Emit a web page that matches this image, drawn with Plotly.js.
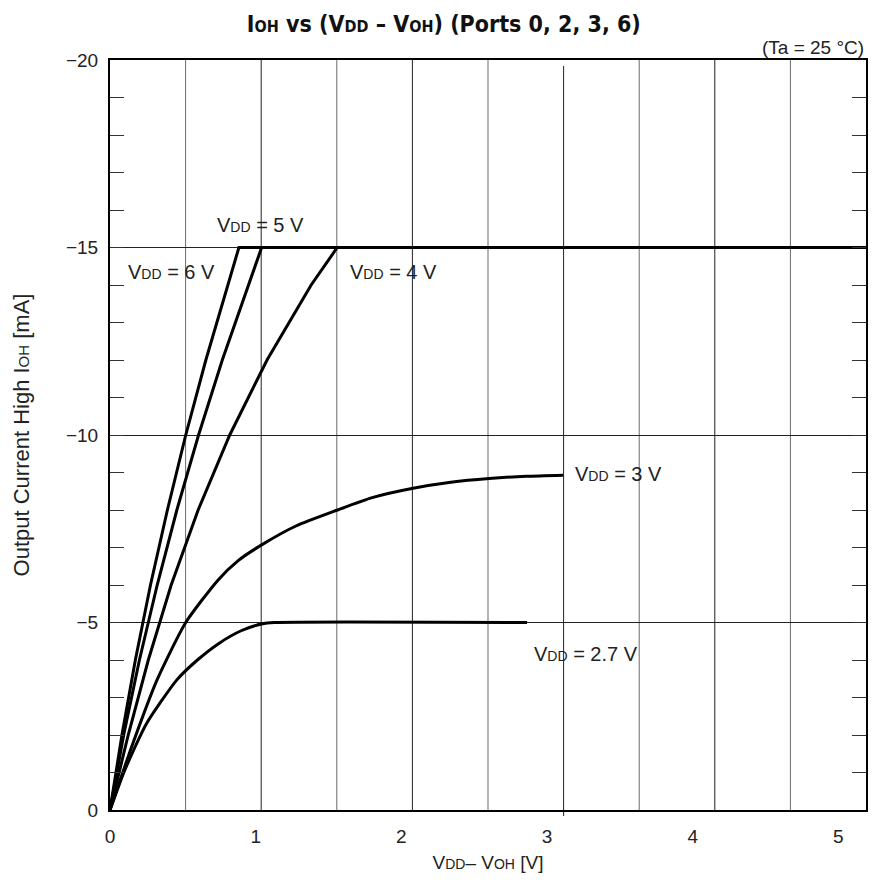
<!DOCTYPE html>
<html>
<head>
<meta charset="utf-8">
<script src="https://cdn.plot.ly/plotly-3.0.1.min.js"></script>
<style>
  html, body { margin: 0; padding: 0; background: #ffffff; }
  #chart { width: 872px; height: 882px; }
</style>
</head>
<body>
<div id="chart"></div>
<script>
// ---- Data ----
// x: VDD - VOH [V], y: IOH [mA]
const x_vdd6 = [0, 0.082, 0.174, 0.278, 0.394, 0.52, 0.658, 0.806, 0.885, 5.19];
const i_vdd6 = [0, -2, -4, -6, -8, -10, -12, -14, -15, -15];

const x_vdd5 = [0, 0.094, 0.202, 0.324, 0.459, 0.608, 0.771, 0.948, 1.041, 5.19];
const i_vdd5 = [0, -2, -4, -6, -8, -10, -12, -14, -15, -15];

const x_vdd4 = [0, 0.125, 0.263, 0.42, 0.605, 0.822, 1.078, 1.381, 1.56, 5.19];
const i_vdd4 = [0, -2, -4, -6, -8, -10, -12, -14, -15, -15];

const x_vdd3 = [0, 0.15, 0.323, 0.52, 0.741, 0.88, 1.041, 1.28, 1.562, 1.8, 2.081, 2.34, 2.603, 2.86, 3.111];
const i_vdd3 = [0, -1.7, -3.47, -5.0, -6.13, -6.65, -7.07, -7.58, -8.0, -8.33, -8.58, -8.74, -8.84, -8.9, -8.93];

const x_vdd27 = [0, 0.1, 0.25, 0.459, 0.6, 0.75, 0.9, 1.04, 1.13, 2.863];
const i_vdd27 = [0, -1.05, -2.3, -3.47, -4.0, -4.45, -4.78, -4.96, -5.0, -5.0];

const xTickVals = [0, 1, 2, 3, 4, 5];
const xTickText = ['0', '1', '2', '3', '4', '5'];
const yTickVals = [0, -5, -10, -15, -20];
const yTickText = ['0', '\u22125', '\u221210', '\u221215', '\u221220'];

const curveLabels = ['V<span style="font-size:14px">DD</span> = 6 V',
                     'V<span style="font-size:14px">DD</span> = 5 V',
                     'V<span style="font-size:14px">DD</span> = 4 V',
                     'V<span style="font-size:14px">DD</span> = 3 V',
                     'V<span style="font-size:14px">DD</span> = 2.7 V'];

// ---- Chart ----
const FONT = 'Liberation Sans, Arial, Helvetica, sans-serif';
const lineStyle = {color: '#000000', width: 3};

const traces = [
  {x: x_vdd6, y: i_vdd6, mode: 'lines', line: Object.assign({shape: 'linear'}, lineStyle), name: '6V'},
  {x: x_vdd5, y: i_vdd5, mode: 'lines', line: Object.assign({shape: 'linear'}, lineStyle), name: '5V'},
  {x: x_vdd4, y: i_vdd4, mode: 'lines', line: Object.assign({shape: 'linear'}, lineStyle), name: '4V'},
  {x: x_vdd3, y: i_vdd3, mode: 'lines', line: Object.assign({shape: 'spline', smoothing: 0.6}, lineStyle), name: '3V'},
  {x: x_vdd27, y: i_vdd27, mode: 'lines', line: Object.assign({shape: 'spline', smoothing: 0.6}, lineStyle), name: '2.7V'}
];

// vertical grid (10 equal divisions of the plot width)
const shapes = [];
for (let k = 1; k <= 9; k++) {
  shapes.push({
    type: 'line', xref: 'paper', yref: 'paper',
    x0: k / 10, x1: k / 10,
    y0: k === 6 ? -0.008 : 0, y1: k === 6 ? 0.992 : 1,
    line: {color: k % 2 ? '#6a6a6a' : '#222222', width: 1},
    layer: 'below'
  });
}

const SUB = 'font-size:15px';
const layout = {
  width: 872, height: 882,
  margin: {l: 110, r: 6, t: 60, b: 72},
  paper_bgcolor: '#ffffff', plot_bgcolor: '#ffffff',
  showlegend: false,
  font: {family: FONT, size: 19, color: '#222222'},
  title: {
    text: 'I<span style="font-size:16px">OH</span> vs (V<span style="font-size:16px">DD</span> \u2013 V<span style="font-size:16px">OH</span>) (Ports 0, 2, 3, 6)',
    font: {family: 'Liberation Sans Narrow, DejaVu Sans Condensed, Arial Narrow, sans-serif', size: 23, weight: 'bold', color: '#111111'},
    xref: 'container', x: 0.509, xanchor: 'center',
    yref: 'container', y: 1 - 24 / 882, yanchor: 'middle'
  },
  xaxis: {
    range: [0, 5.19],
    tickmode: 'array', tickvals: xTickVals, ticktext: xTickText,
    ticks: '', showgrid: false, zeroline: false,
    showline: true, linecolor: '#000000', linewidth: 2, mirror: true,
    tickfont: {size: 19, color: '#222222'},
    ticklabelstandoff: 8,
    title: {text: 'V<span style="font-size:14px">DD</span>\u2013 V<span style="font-size:14px">OH</span> [V]', font: {size: 19, color: '#222222'}, standoff: 10}
  },
  yaxis: {
    range: [0, -20],
    tickmode: 'array', tickvals: yTickVals, ticktext: yTickText,
    ticks: 'inside', ticklen: 14, tickcolor: '#333333', tickwidth: 1,
    minor: {dtick: 1, ticks: 'inside', ticklen: 14, tickcolor: '#333333', tickwidth: 1, showgrid: false},
    showgrid: true, gridcolor: '#222222', gridwidth: 1,
    zeroline: false,
    showline: true, linecolor: '#000000', linewidth: 2, mirror: 'ticks',
    tickfont: {size: 19, color: '#222222'},
    ticklabelstandoff: 6,
    title: {text: 'Output Current High I<span style="' + SUB + '">OH</span> [mA]', font: {size: 22, color: '#222222'}, standoff: 30}
  },
  shapes: shapes,
  annotations: [
    {text: '(Ta = 25 \u00B0C)', xref: 'paper', yref: 'paper', x: 1, y: 1 + 12 / 750, xanchor: 'right', yanchor: 'middle', showarrow: false, font: {size: 19, color: '#222222'}},
    {text: curveLabels[0], x: 0.42, y: -14.35, xanchor: 'center', yanchor: 'middle', showarrow: false, font: {size: 20, color: '#222222'}},
    {text: curveLabels[1], x: 1.03, y: -15.6, xanchor: 'center', yanchor: 'middle', showarrow: false, font: {size: 20, color: '#222222'}},
    {text: curveLabels[2], x: 1.944, y: -14.35, xanchor: 'center', yanchor: 'middle', showarrow: false, font: {size: 20, color: '#222222'}},
    {text: curveLabels[3], x: 3.49, y: -8.95, xanchor: 'center', yanchor: 'middle', showarrow: false, font: {size: 20, color: '#222222'}},
    {text: curveLabels[4], x: 3.27, y: -4.15, xanchor: 'center', yanchor: 'middle', showarrow: false, font: {size: 20, color: '#222222'}}
  ]
};

Plotly.newPlot('chart', traces, layout, {displayModeBar: false, staticPlot: true});
</script>
</body>
</html>
